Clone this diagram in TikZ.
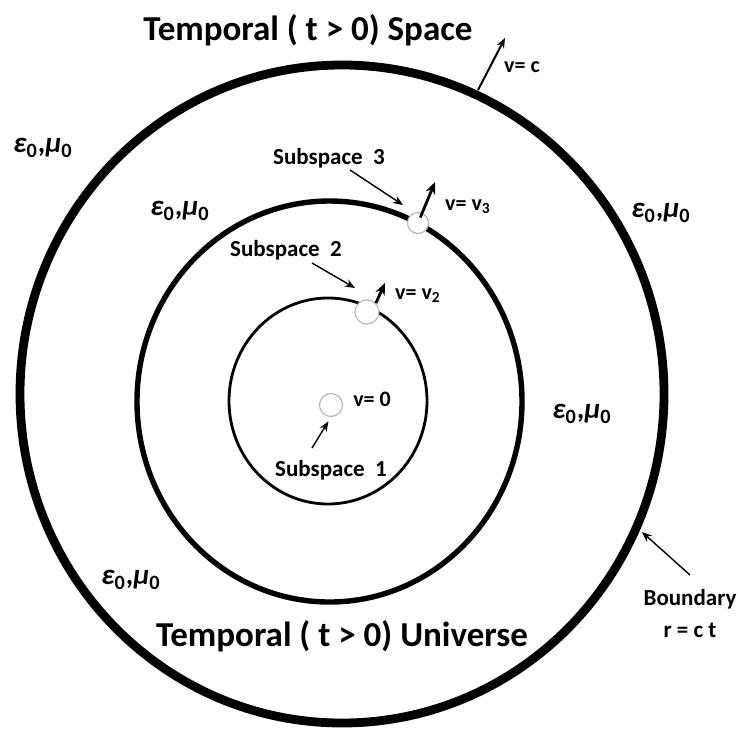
\documentclass[tikz,border=0pt]{standalone}
\usepackage{fontspec}
\setmainfont{Carlito}
\usetikzlibrary{arrows.meta}

\newcommand{\epsmu}{{\itshape ε}\textsubscript{0},{\itshape μ}\textsubscript{0}}

\begin{document}
\begin{tikzpicture}[
                    x=0.5pt,y=-0.5pt,
                    every node/.style={inner sep=0pt},
                    heading/.style={font=\fontsize{17.5}{20}\selectfont\bfseries},
                    tag/.style={font=\fontsize{11.5}{14}\selectfont\bfseries},
                    speed/.style={font=\fontsize{11}{13}\selectfont\bfseries},
                    medium/.style={font=\fontsize{14.5}{16}\selectfont\bfseries},
                    dot/.style={circle,draw=gray!55,line width=0.6pt,fill=white},
                    pointer/.style={-{Stealth[length=5pt,width=4pt]},line width=0.7pt},
                    motion/.style={-{Stealth[length=6pt,width=5pt]},line width=1.4pt},
                    ring/.style={draw,line width=#1}
                  ]
                  \useasboundingbox (0,0) rectangle (738,729);
                  \path[ring=4.4pt] (342,394) ellipse [x radius=322, y radius=329];
                  \path[ring=2.7pt] (329.5,401.5) ellipse [x radius=192.5, y radius=200.5];
                  \path[ring=1.4pt] (328,401) ellipse [x radius=99, y radius=103];

                  \node[dot,minimum size=11.5pt] (s1) at (331,405) {};
                  \node[dot,minimum size=12pt] (s2) at (367,312) {};
                  \node[dot,minimum size=10.5pt] (s3) at (418,223) {};

                  \node[heading] (space) at (308,30) {Temporal ( t > 0) Space};
                  \node[heading] (universe) at (342,636) {Temporal ( t > 0) Universe};

                  \node[tag] (sub3) at (329,158) {Subspace~~3};
                  \node[tag] (sub2) at (286,250) {Subspace~~2};
                  \node[tag] (sub1) at (331,470) {Subspace~~1};
                  \node[tag,align=center] (bnd) at (690,613) {Boundary\\[2pt]r = c t};

                  \node[speed] (vc) at (522,67) {v= c};
                  \node[speed] (v3) at (468,207) {v= v\textsubscript{3}};
                  \node[speed] (v2) at (418,296) {v= v\textsubscript{2}};
                  \node[speed] (v0) at (372,399) {v= 0};

                  \node[medium] (m1) at (43,148) {\epsmu};
                  \node[medium] (m2) at (180,211) {\epsmu};
                  \node[medium] (m3) at (661,213) {\epsmu};
                  \node[medium] (m4) at (582,414) {\epsmu};
                  \node[medium] (m5) at (131,580) {\epsmu};

                  \coordinate (p3a) at (350,170);
                  \coordinate (p3b) at (403,205);
                  \coordinate (p2a) at (312,263);
                  \coordinate (p2b) at (355,288);
                  \coordinate (p1a) at (312,448);
                  \coordinate (edge) at (478,90);
                  \coordinate (edgetip) at (505,38);
                  \coordinate (bnda) at (690,575);
                  \coordinate (bndb) at (642,532);
                  \coordinate (tip3) at (435,182);
                  \coordinate (tip2) at (385,283);

                  \draw[pointer] (p3a) -- (p3b);
                  \draw[pointer] (p2a) -- (p2b);
                  \draw[pointer,shorten >=2.5pt] (p1a) -- (s1.south);
                  \draw[pointer] (bnda) -- (bndb);
                  \draw[pointer,line width=1pt] (edge) -- (edgetip);
                  \draw[motion,shorten <=3pt] (s3.center) -- (tip3);
                  \draw[motion] (s2.north east) -- (tip2);
                \end{tikzpicture}
\end{document}
